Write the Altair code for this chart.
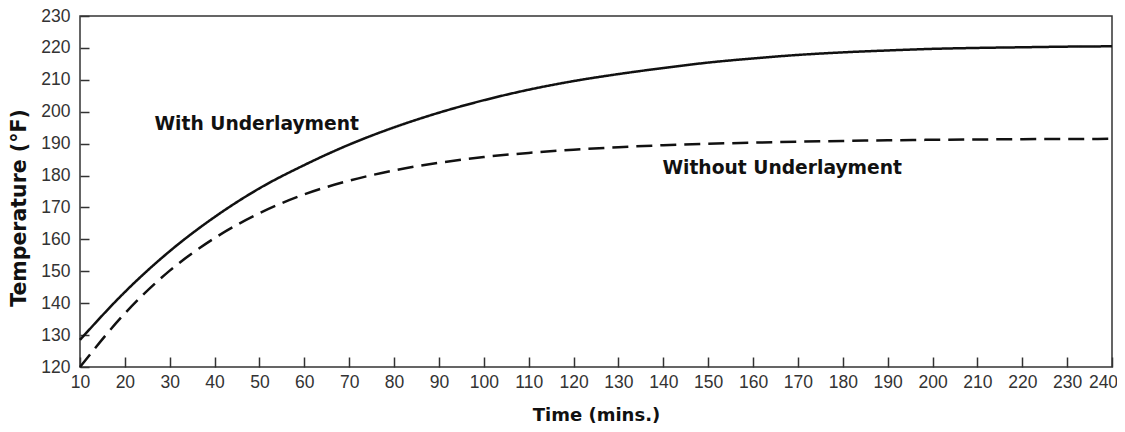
import altair as alt
import pandas as pd

time_min = [10, 20, 30, 40, 50, 60, 70, 80, 90, 100, 110, 120, 130, 140, 150, 160, 170, 180, 190, 200, 210, 220, 230, 240]
with_underlayment = [128.5, 143.5, 156.3, 167.0, 176.0, 183.3, 189.7, 195.1, 199.7, 203.6, 206.9, 209.6, 211.8, 213.7, 215.4, 216.7, 217.8, 218.6, 219.2, 219.7, 220.0, 220.2, 220.4, 220.5]
without_underlayment = [120.0, 136.8, 150.2, 160.4, 168.2, 174.1, 178.4, 181.6, 184.0, 185.8, 187.1, 188.1, 188.9, 189.5, 189.95, 190.3, 190.6, 190.85, 191.05, 191.2, 191.3, 191.4, 191.45, 191.5]

series_names = ["With Underlayment", "Without Underlayment"]
label_x = [26.6, 139.8]
label_y = [196.0, 182.3]

x_ticks = list(range(10, 241, 10))
y_ticks = list(range(120, 231, 10))

rows = []
for t, a, b in zip(time_min, with_underlayment, without_underlayment):
    rows.append({"time": t, "temp": a, "series": series_names[0]})
    rows.append({"time": t, "temp": b, "series": series_names[1]})
df = pd.DataFrame(rows)
labels = pd.DataFrame({"text": series_names, "x": label_x, "y": label_y})

W, H = 1032, 351
LABEL_FONT = "Liberation Sans"
BOLD_FONT = "DejaVu Sans"

xscale = alt.Scale(domain=[10, 240], nice=False, zero=False)
yscale = alt.Scale(domain=[120, 230], nice=False, zero=False)

x_axis = alt.Axis(
    values=x_ticks, offset=-10, tickSize=10, tickColor="#333", tickWidth=1.5,
    domain=False, grid=False, labelPadding=6, labelFont=LABEL_FONT, labelFontSize=17.5,
    labelColor="#333", labelFlush=False, labelOverlap=False,
    labelOffset={"condition": {"test": "datum.value == 240", "value": -9}, "value": 0},
    title="Time (mins.)", titleFont=BOLD_FONT, titleFontWeight="bold", titleFontSize=18,
    titleColor="#111", titleX=W / 2, titleY=63, titleBaseline="alphabetic", titleAlign="center",
)
y_axis = alt.Axis(
    values=y_ticks, offset=-9, tickSize=9, tickColor="#333", tickWidth=1.5,
    domain=False, grid=False, labelPadding=10, labelFont=LABEL_FONT, labelFontSize=17.5,
    labelColor="#333", labelFlush=False, labelOverlap=False,
    title="Temperature (°F)", titleFont=BOLD_FONT, titleFontWeight="bold", titleFontSize=20.5,
    titleColor="#111", titleX=-64, titleY=191.5, titleAngle=-90,
    titleBaseline="alphabetic", titleAlign="center",
)

lines = alt.Chart(df).mark_line(color="#111", strokeWidth=2.5, interpolate="monotone").encode(
    x=alt.X("time:Q", scale=xscale, axis=x_axis),
    y=alt.Y("temp:Q", scale=yscale, axis=y_axis),
    strokeDash=alt.StrokeDash(
        "series:N",
        scale=alt.Scale(domain=series_names, range=[[1, 0], [16, 8]]),
        legend=None,
    ),
    detail="series:N",
)

texts = alt.Chart(labels).mark_text(
    align="left", baseline="middle", font=BOLD_FONT, fontWeight="bold", fontSize=18.7, color="#111"
).encode(
    x=alt.X("x:Q", scale=xscale, axis=x_axis),
    y=alt.Y("y:Q", scale=yscale, axis=y_axis),
    text="text:N",
)

chart = alt.layer(lines, texts).properties(
    width=W, height=H,
    autosize=alt.AutoSizeParams(type="none"),
    padding={"left": 72, "top": 8, "right": 5, "bottom": 57},
    background="white",
).configure_view(stroke="#333", strokeWidth=1.5)

chart.save("out.html", embed_options={"renderer": "svg", "actions": False})
